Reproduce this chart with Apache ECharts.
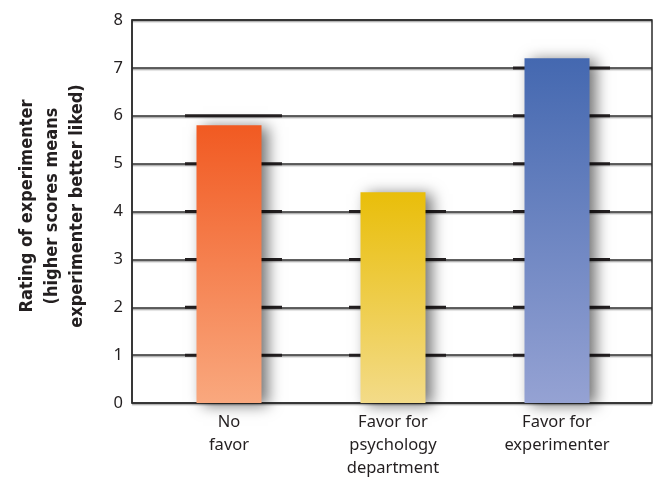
<!DOCTYPE html>
<html>
<head>
<meta charset="utf-8">
<script src="https://cdn.jsdelivr.net/npm/echarts@6/dist/echarts.min.js"></script>
<style>
  html, body { margin: 0; padding: 0; background: #fff; }
  #chart { width: 655px; height: 480px; }
</style>
</head>
<body>
<div id="chart"></div>
<script>
// Mean rating of the experimenter in each favor condition
const categories = ['No\nfavor', 'Favor for\npsychology\ndepartment', 'Favor for\nexperimenter'];
const ratings = [5.8, 4.4, 7.2];
const yTicks = [0, 1, 2, 3, 4, 5, 6, 7, 8];

const barColors = [
  ['#F15A22', '#F9A87E'],
  ['#E9BE0A', '#F3DB88'],
  ['#4468B0', '#95A2D3']
];

const FONT = '"Myriad Pro", "Noto Sans", "Open Sans", sans-serif';
const INK = '#231f20';

// Heavy gridline segments behind each bar, from 1 up to the rounded rating
const thickSegments = [];
ratings.forEach(function (v, i) {
  for (let k = 1; k <= Math.round(v); k++) thickSegments.push([i, k]);
});

const chart = echarts.init(document.getElementById('chart'), null, { renderer: 'canvas' });

const gridLine = {
  color: '#2b2b2b',
  width: 1.5,
  shadowColor: 'rgba(0,0,0,0.35)',
  shadowOffsetY: 1.5,
  shadowBlur: 1
};

chart.setOption({
  animation: false,
  backgroundColor: '#fff',
  grid: [
    { left: 132, right: 3, top: 20, bottom: 77, show: true, borderColor: '#2b2b2b', borderWidth: 1.5, backgroundColor: 'transparent' },
    { left: 147, right: 16, top: 20, bottom: 77 }
  ],
  xAxis: [
    { gridIndex: 0, type: 'value', min: 0, max: 1, show: false },
    {
      gridIndex: 1,
      type: 'category',
      data: categories,
      axisLine: { show: false },
      axisTick: { show: false },
      axisLabel: {
        interval: 0,
        margin: 8,
        color: INK,
        fontFamily: FONT,
        fontSize: 16.5,
        lineHeight: 23
      }
    }
  ],
  yAxis: [
    {
      gridIndex: 0,
      type: 'value',
      min: yTicks[0],
      max: yTicks[yTicks.length - 1],
      interval: 1,
      axisLine: { show: true, lineStyle: { color: '#2b2b2b', width: 1.5 } },
      axisTick: { show: false },
      axisLabel: { color: INK, fontFamily: FONT, fontSize: 16.5, margin: 9 },
      splitLine: { show: true, lineStyle: gridLine }
    },
    {
      gridIndex: 1,
      type: 'value',
      min: yTicks[0],
      max: yTicks[yTicks.length - 1],
      interval: 1,
      show: false,
      splitLine: { show: false }
    }
  ],
  graphic: [
    {
      type: 'text',
      x: 52,
      y: 206,
      rotation: Math.PI / 2,
      style: {
        text: 'Rating of experimenter\n(higher scores means\nexperimenter better liked)',
        x: 0,
        y: 0,
        align: 'center',
        verticalAlign: 'middle',
        fill: INK,
        font: 'bold 18px "Liberation Sans Narrow", "DejaVu Sans Condensed", sans-serif',
        lineHeight: 25
      }
    }
  ],
  series: [
    {
      type: 'custom',
      xAxisIndex: 1,
      yAxisIndex: 1,
      z: 1,
      data: thickSegments,
      renderItem: function (params, api) {
        const p = api.coord([api.value(0), api.value(1)]);
        return {
          type: 'line',
          shape: { x1: p[0] - 44, y1: p[1], x2: p[0] + 53, y2: p[1] },
          style: { stroke: INK, lineWidth: 3 }
        };
      }
    },
    {
      type: 'bar',
      xAxisIndex: 1,
      yAxisIndex: 1,
      z: 3,
      barWidth: 65,
      data: ratings.map(function (v, i) {
        return {
          value: v,
          itemStyle: {
            color: new echarts.graphic.LinearGradient(0, 0, 0, 1, [
              { offset: 0, color: barColors[i][0] },
              { offset: 1, color: barColors[i][1] }
            ]),
            shadowColor: 'rgba(0,0,0,0.55)',
            shadowBlur: 14,
            shadowOffsetX: 6,
            shadowOffsetY: 2
          }
        };
      })
    }
  ]
});
</script>
</body>
</html>
